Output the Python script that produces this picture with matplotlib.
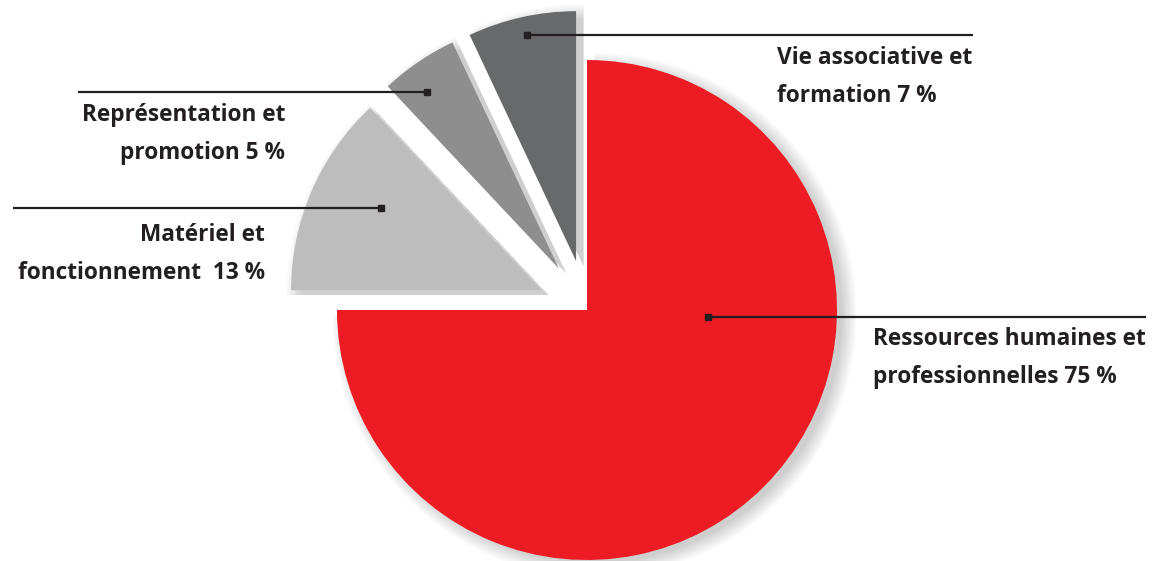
import matplotlib.pyplot as plt
from matplotlib.patches import Wedge
import numpy as np

# parts du budget (%)
labels = ["Ressources humaines et\nprofessionnelles 75 %",
          "Matériel et\nfonctionnement  13 %",
          "Représentation et\npromotion 5 %",
          "Vie associative et\nformation 7 %"]
values = [75, 13, 5, 7]
colors = ["#ED1C24", "#BDBDBD", "#8E8E8E", "#68696B"]
explode = [0, 0.2, 0.2, 0.2]

plt.rcParams['font.family'] = ['Open Sans', 'DejaVu Sans']

W, H = 1153, 561
CX, CY, R = 587, 310, 250


def px(x, y):
    # pixel de l'image -> coordonnées du graphique
    return (x - CX) / R, (CY - y) / R


fig = plt.figure(figsize=(W / 100, H / 100), dpi=100)
ax = fig.add_axes([0, 0, 1, 1])

# ombre portée floue
fracs = np.array(values) / sum(values)
theta = 90.0
for v, e in zip(fracs, explode):
    t2 = theta
    t1 = theta - v * 360
    mid = np.radians((t1 + t2) / 2)
    cx, cy = e * np.cos(mid), e * np.sin(mid)
    for k in range(16):
        ax.add_patch(Wedge((cx + 0.03, cy - 0.02), 0.99 + 0.004 * k, t1, t2,
                           facecolor='black', alpha=0.012,
                           linewidth=0, zorder=1))
    theta = t1

wedges, _ = ax.pie(values, colors=colors, explode=explode, startangle=90,
                   counterclock=False, radius=1,
                   wedgeprops=dict(linewidth=0))
for w in wedges:
    w.set_zorder(2)
ax.set_xlim(px(0, 0)[0], px(W, 0)[0])
ax.set_ylim(px(0, H)[1], px(0, 0)[1])
ax.set_aspect('equal')
ax.axis('off')

# lignes de rappel : (point dans la part, bout de ligne, position du texte, alignement)
leaders = [
    ((708, 317), 1146, (873, 358), 'left'),
    ((381, 208), 13, (265, 254), 'right'),
    ((427, 92), 78, (285, 134), 'right'),
    ((527, 35), 973, (777, 77), 'left'),
]
for lab, (p, xend, tpos, ha) in zip(labels, leaders):
    x0, y0 = px(*p)
    x1, _ = px(xend, p[1])
    ax.plot([x0, x1], [y0, y0], color='#231F20', lw=1.6, zorder=5,
            solid_capstyle='butt')
    ax.plot([x0], [y0], marker='s', ms=5, color='#231F20', zorder=5)
    tx, ty = px(*tpos)
    ax.text(tx, ty, lab, ha=ha, va='center', fontsize=16.3, fontweight='bold',
            color='#231F20', linespacing=1.78, multialignment=ha, zorder=6)

fig.savefig('out.png', dpi=100)
